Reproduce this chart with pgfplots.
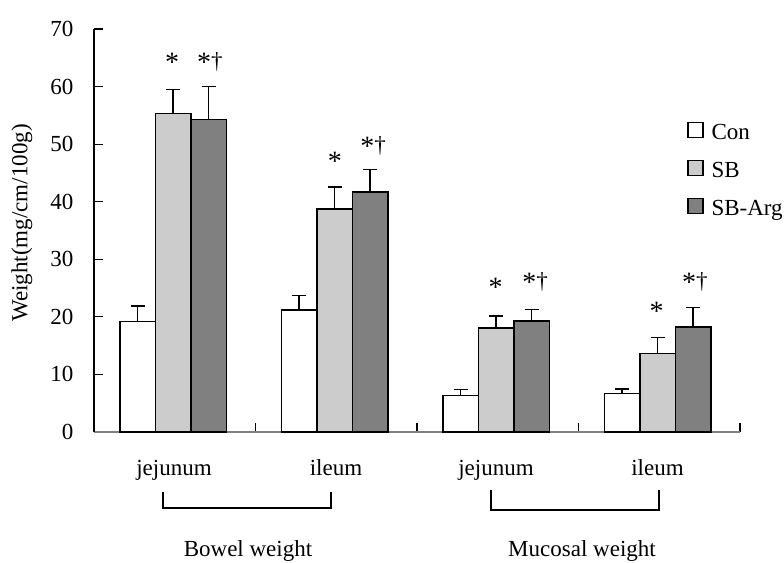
\documentclass[border=0pt]{standalone}
\usepackage{fontspec}
\setmainfont{Liberation Serif}
\usepackage{pgfplots}
\pgfplotsset{compat=1.18}
\newcommand\tf{\fontsize{23pt}{27pt}\selectfont}
\newcommand\myast{\raisebox{-3pt}{\fontsize{28pt}{30pt}\selectfont *}}
\begin{document}
\begin{tikzpicture}[x=1pt,y=1pt]
\useasboundingbox (0,0) rectangle (784,562);
\begin{axis}[
  at={(94pt,130pt)}, anchor=south west,
  scale only axis, width=646pt, height=403pt,
  xmin=0, xmax=4, ymin=0, ymax=70,
  axis x line*=bottom, axis y line*=left,
  x axis line style={draw=gray, line width=1.6pt},
  y axis line style={draw=black, line width=1.2pt},
  xtick={0,1,2,3,4}, xticklabels={},
  ytick={0,10,...,70},
  tick align=inside, major tick length=9pt,
  tick style={black, line width=1.2pt},
  every major x tick/.append style={yshift=9pt},
  /pgf/number format/assume math mode=true,
  yticklabel style={font=\tf, xshift=-17pt},
  ybar=0pt, bar width=35.5pt,
  error bars/y dir=plus, error bars/y explicit,
  error bars/error bar style={black, line width=1.6pt},
  error bars/error mark options={black, rotate=90, mark size=7pt, line width=1.6pt},
  legend style={draw=none, fill=none, at={(0.918,0.77)}, anchor=north west,
    font=\tf, row sep=16pt, column sep=8pt, inner sep=0pt,
    nodes={inner sep=0pt, text height=16pt, text depth=5pt}},
  legend image code/.code={\draw[#1, line width=1.3pt] (0pt,-4pt) rectangle (15pt,11pt);},
  legend cell align=left,
  clip=false,
]
\addplot[fill=white, draw=black, line width=1.5pt] coordinates {
  (0.49,19.2) +- (0,2.7) (1.49,21.2) +- (0,2.5) (2.49,6.3) +- (0,1.1) (3.49,6.65) +- (0,0.77)};
\addlegendentry{Con}
\addplot[fill=gray!40, draw=black, line width=1.5pt] coordinates {
  (0.49,55.3) +- (0,4.2) (1.49,38.7) +- (0,3.9) (2.49,18.1) +- (0,2.1) (3.49,13.6) +- (0,2.8)};
\addlegendentry{SB}
\addplot[fill=gray, draw=black, line width=1.5pt] coordinates {
  (0.49,54.3) +- (0,5.7) (1.49,41.7) +- (0,3.9) (2.49,19.3) +- (0,2.0) (3.49,18.2) +- (0,3.4)};
\addlegendentry{SB-Arg}
\node[anchor=base, font=\tf] at (axis cs:0.483,63.2) {\myast};
\node[anchor=base, font=\tf] at (axis cs:0.718,63.2) {\myast†};
\node[anchor=base, font=\tf] at (axis cs:1.492,45.9) {\myast};
\node[anchor=base, font=\tf] at (axis cs:1.728,48.5) {\myast†};
\node[anchor=base, font=\tf] at (axis cs:2.487,24.1) {\myast};
\node[anchor=base, font=\tf] at (axis cs:2.731,24.9) {\myast†};
\node[anchor=base, font=\tf] at (axis cs:3.484,19.9) {\myast};
\node[anchor=base, font=\tf] at (axis cs:3.721,24.9) {\myast†};
\end{axis}
\node[rotate=90, font=\tf] at (22,339) {Weight(mg/cm/100g)};
\node[anchor=base, font=\tf] at (174,86) {jejunum};
\node[anchor=base, font=\tf] at (336,86) {ileum};
\node[anchor=base, font=\tf] at (496,86) {jejunum};
\node[anchor=base, font=\tf] at (657.5,86) {ileum};
\draw[line width=2pt] (163,70) -- (163,54) -- (331,54) -- (331,70);
\draw[line width=2pt] (491,72) -- (491,52) -- (659,52) -- (659,72);
\node[anchor=base, font=\tf] at (248,5.5) {Bowel weight};
\node[anchor=base, font=\tf] at (582,5.5) {Mucosal weight};
\end{tikzpicture}
\end{document}
